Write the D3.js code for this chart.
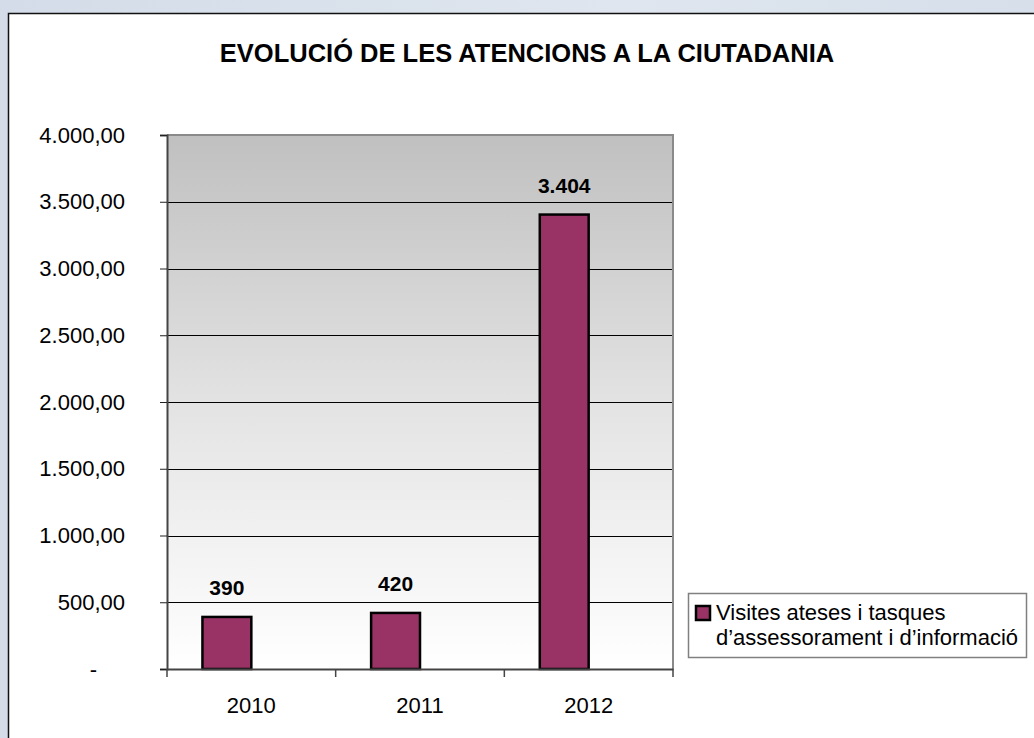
<!DOCTYPE html>
<html>
<head>
<meta charset="utf-8">
<script src="https://cdn.jsdelivr.net/npm/d3@7"></script>
<style>
  html, body { margin: 0; padding: 0; background: #d8e0eb; overflow: hidden; }
  text { font-family: "Liberation Sans", Arial, sans-serif; fill: #000; }
</style>
</head>
<body>
<script>
// Chart data
var title = "EVOLUCIÓ DE LES ATENCIONS A LA CIUTADANIA";
var years = ["2010", "2011", "2012"];
var visites = [390, 420, 3404];
var yTicks = [0, 500, 1000, 1500, 2000, 2500, 3000, 3500, 4000];
var legendLines = ["Visites ateses i tasques", "d\u2019assessorament i d\u2019informació"];

var W = 1034, H = 738;
var plot = {left: 167, right: 673, top: 135, bottom: 669};

// Catalan number formatting (1.000,00)
var ca = d3.formatLocale({decimal: ",", thousands: ".", grouping: [3], currency: ["", " €"]});
var fmtAxis = ca.format(",.2f");
var fmtLabel = ca.format(",d");

var svg = d3.select("body").append("svg")
    .attr("width", W)
    .attr("height", H);

var defs = svg.append("defs");
var bg = defs.append("linearGradient").attr("id", "bg")
    .attr("x1", 0).attr("y1", 0).attr("x2", 1).attr("y2", 0);
bg.append("stop").attr("offset", "0%").attr("stop-color", "#d3dce8");
bg.append("stop").attr("offset", "60%").attr("stop-color", "#dfe6ef");
bg.append("stop").attr("offset", "100%").attr("stop-color", "#d6dfea");

var plotGrad = defs.append("linearGradient").attr("id", "plotGrad")
    .attr("x1", 0).attr("y1", 0).attr("x2", 0).attr("y2", 1);
plotGrad.append("stop").attr("offset", "0%").attr("stop-color", "#c0c0c0");
plotGrad.append("stop").attr("offset", "55%").attr("stop-color", "#e6e6e6");
plotGrad.append("stop").attr("offset", "100%").attr("stop-color", "#ffffff");

// Page background and the chart frame
svg.append("rect").attr("width", W).attr("height", H).attr("fill", "url(#bg)");
svg.append("rect")
    .attr("x", 8.5).attr("y", 13.5)
    .attr("width", W + 20).attr("height", H + 20)
    .attr("fill", "#fff")
    .attr("stroke", "#111")
    .attr("stroke-width", 1.5);

// Title
svg.append("text")
    .attr("x", 527).attr("y", 62)
    .attr("text-anchor", "middle")
    .attr("font-size", 25.5)
    .attr("font-weight", "bold")
    .text(title);

// Scales
var x = d3.scaleBand().domain(years).range([plot.left, plot.right]).padding(0);
// two slots per category (second series empty), as in the original chart
var xSub = d3.scaleBand().domain([0, 1]).range([0, x.bandwidth()]).paddingInner(0).paddingOuter(0.725);
var y = d3.scaleLinear().domain([0, 4000]).range([plot.bottom, plot.top]);

// Plot area background
svg.append("rect")
    .attr("x", plot.left).attr("y", plot.top)
    .attr("width", plot.right - plot.left)
    .attr("height", plot.bottom - plot.top)
    .attr("fill", "url(#plotGrad)");

// Gridlines
svg.append("g")
    .attr("class", "grid")
    .selectAll("line")
    .data(yTicks.filter(d => d > 0 && d < 4000))
    .join("line")
    .attr("x1", plot.left).attr("x2", plot.right)
    .attr("y1", d => Math.round(y(d)) + 0.5)
    .attr("y2", d => Math.round(y(d)) + 0.5)
    .attr("stroke", "#000")
    .attr("stroke-width", 1);

// Plot border (top / right gray)
svg.append("path")
    .attr("d", `M${plot.left},${plot.top} H${plot.right} V${plot.bottom}`)
    .attr("fill", "none")
    .attr("stroke", "#8a8a8a")
    .attr("stroke-width", 2);

// Bars
svg.append("g")
    .selectAll("rect")
    .data(years.map((yr, i) => ({year: yr, value: visites[i]})))
    .join("rect")
    .attr("x", d => x(d.year) + xSub(0))
    .attr("y", d => y(d.value))
    .attr("width", xSub.bandwidth())
    .attr("height", d => y(0) - y(d.value))
    .attr("fill", "#993366")
    .attr("stroke", "#000")
    .attr("stroke-width", 2.5);

// Data labels
svg.append("g")
    .selectAll("text")
    .data(years.map((yr, i) => ({year: yr, value: visites[i]})))
    .join("text")
    .attr("x", d => x(d.year) + xSub(0) + xSub.bandwidth() / 2)
    .attr("y", d => y(d.value) - 22)
    .attr("text-anchor", "middle")
    .attr("font-size", 21)
    .attr("font-weight", "bold")
    .text(d => fmtLabel(d.value));

// Y axis
var yAxis = svg.append("g")
    .attr("transform", `translate(${plot.left},0)`)
    .call(d3.axisLeft(y).tickValues(yTicks).tickSize(7).tickPadding(35)
        .tickFormat(d => d === 0 ? "-" : fmtAxis(d)));
yAxis.select(".domain").attr("stroke", "#444").attr("stroke-width", 2);
yAxis.selectAll(".tick line").attr("stroke", "#222");
yAxis.selectAll(".tick text")
    .attr("font-size", 22)
    .attr("font-family", "'Liberation Sans', Arial, sans-serif")
    .attr("dx", d => d === 0 ? -28 : 0);

// X axis
var xAxis = svg.append("g")
    .attr("transform", `translate(0,${plot.bottom})`)
    .call(d3.axisBottom(x).tickSize(0).tickPadding(28));
xAxis.select(".domain").attr("stroke", "#444").attr("stroke-width", 2);
xAxis.selectAll(".tick text")
    .attr("font-size", 22)
    .attr("font-family", "'Liberation Sans', Arial, sans-serif");
// category separator ticks
xAxis.selectAll(".sep")
    .data(years.map(d => x(d)).concat([plot.right]))
    .join("line")
    .attr("class", "sep")
    .attr("x1", d => d).attr("x2", d => d)
    .attr("y1", 0).attr("y2", 8)
    .attr("stroke", "#444")
    .attr("stroke-width", 1.5);

// Legend
var legend = svg.append("g");
legend.append("rect")
    .attr("x", 688.5).attr("y", 593.5)
    .attr("width", 338).attr("height", 64)
    .attr("fill", "#fff")
    .attr("stroke", "#808080")
    .attr("stroke-width", 1.5);
legend.append("rect")
    .attr("x", 696).attr("y", 606)
    .attr("width", 14).attr("height", 14)
    .attr("fill", "#993366")
    .attr("stroke", "#000")
    .attr("stroke-width", 2.5);
legend.selectAll(".lt")
    .data(legendLines)
    .join("text")
    .attr("class", "lt")
    .attr("x", 716)
    .attr("y", (d, i) => 620 + i * 25)
    .attr("font-size", 22)
    .text(d => d);
</script>
</body>
</html>
